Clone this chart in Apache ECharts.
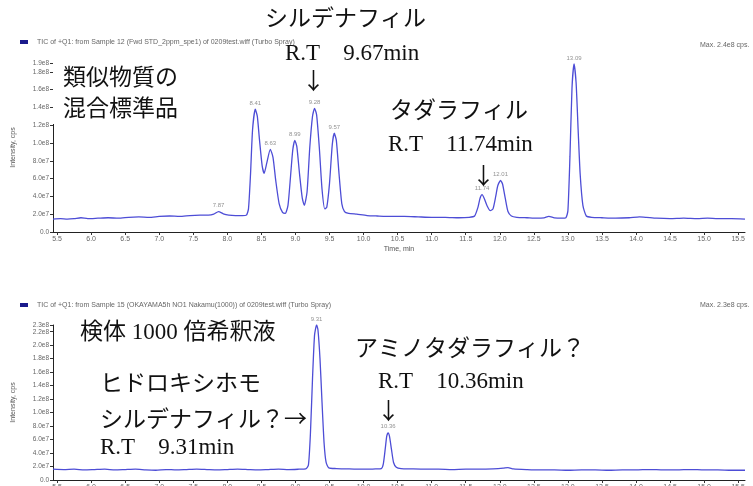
<!DOCTYPE html>
<html><head><meta charset="utf-8">
<script src="https://cdn.jsdelivr.net/npm/echarts@6/dist/echarts.min.js"></script>
<style>html,body{margin:0;padding:0;background:#fff}#c{width:753px;height:486px}</style>
</head><body><div id="c"></div>
<script>
const xTicks = [5.5,6.0,6.5,7.0,7.5,8.0,8.5,9.0,9.5,10.0,10.5,11.0,11.5,12.0,12.5,13.0,13.5,14.0,14.5,15.0,15.5];
const yTicksTop = [0,2e7,4e7,6e7,8e7,1e8,1.2e8,1.4e8,1.6e8,1.8e8,1.9e8];
const yTicksBottom = [0,2e7,4e7,6e7,8e7,1e8,1.2e8,1.4e8,1.6e8,1.8e8,2.0e8,2.2e8,2.3e8];

const topTrace = [[5.44,1.45e7],[5.55,1.5e7],[5.65,1.45e7],[5.75,1.5e7],[5.85,1.6e7],[5.95,1.5e7],[6.1,1.55e7],[6.25,1.6e7],[6.4,1.55e7],[6.55,1.65e7],[6.7,1.7e7],[6.85,1.65e7],[7.0,1.75e7],[7.15,1.8e7],[7.3,1.75e7],[7.45,1.85e7],[7.6,1.9e7],[7.72,1.9e7],[7.80,2.0e7],[7.87,2.3e7],[7.94,2.05e7],[8.02,1.9e7],[8.12,1.85e7],[8.22,1.85e7],[8.28,1.9e7],[8.31,2.6e7],[8.34,6.5e7],[8.37,11.5e7],[8.41,13.8e7],[8.44,13.0e7],[8.47,10.5e7],[8.51,7.5e7],[8.54,6.6e7],[8.58,7.8e7],[8.63,9.3e7],[8.67,8.4e7],[8.71,5.8e7],[8.76,3.2e7],[8.81,2.2e7],[8.85,2.1e7],[8.89,3.0e7],[8.93,6.5e7],[8.96,9.2e7],[8.99,10.3e7],[9.02,9.6e7],[9.06,6.5e7],[9.10,3.8e7],[9.13,3.0e7],[9.17,4.5e7],[9.21,9.5e7],[9.25,13.0e7],[9.28,13.9e7],[9.31,13.2e7],[9.35,9.5e7],[9.39,4.8e7],[9.43,2.6e7],[9.46,2.8e7],[9.50,5.5e7],[9.54,9.8e7],[9.57,11.1e7],[9.60,10.3e7],[9.64,6.5e7],[9.68,3.2e7],[9.72,2.3e7],[9.78,2.1e7],[9.9,2.0e7],[10.05,1.85e7],[10.2,1.8e7],[10.4,1.75e7],[10.6,1.75e7],[10.8,1.7e7],[11.0,1.65e7],[11.2,1.65e7],[11.4,1.6e7],[11.55,1.65e7],[11.63,1.8e7],[11.68,2.8e7],[11.71,3.8e7],[11.74,4.2e7],[11.77,3.8e7],[11.81,3.0e7],[11.86,2.4e7],[11.90,2.6e7],[11.94,4.0e7],[11.97,5.2e7],[12.01,5.8e7],[12.04,5.4e7],[12.08,3.8e7],[12.12,2.3e7],[12.17,1.8e7],[12.25,1.65e7],[12.4,1.6e7],[12.55,1.55e7],[12.65,1.6e7],[12.72,1.75e7],[12.8,1.6e7],[12.9,1.55e7],[12.97,1.6e7],[13.0,2.4e7],[13.03,8.5e7],[13.06,16.2e7],[13.09,18.9e7],[13.12,16.8e7],[13.15,11.5e7],[13.18,6.5e7],[13.22,3.0e7],[13.27,1.8e7],[13.35,1.65e7],[13.5,1.6e7],[13.7,1.55e7],[13.9,1.6e7],[14.05,1.7e7],[14.15,1.65e7],[14.3,1.55e7],[14.5,1.5e7],[14.7,1.55e7],[14.9,1.5e7],[15.05,1.55e7],[15.2,1.5e7],[15.4,1.5e7],[15.6,1.45e7]];

const bottomTrace = [[5.44,1.6e7],[5.6,1.55e7],[5.75,1.6e7],[5.9,1.5e7],[6.05,1.55e7],[6.2,1.6e7],[6.35,1.5e7],[6.5,1.55e7],[6.65,1.6e7],[6.8,1.5e7],[6.95,1.45e7],[7.1,1.55e7],[7.25,1.5e7],[7.4,1.55e7],[7.55,1.6e7],[7.7,1.55e7],[7.85,1.5e7],[8.0,1.55e7],[8.15,1.6e7],[8.3,1.55e7],[8.45,1.5e7],[8.6,1.55e7],[8.75,1.6e7],[8.9,1.55e7],[9.05,1.6e7],[9.15,1.65e7],[9.19,2.2e7],[9.22,7.0e7],[9.25,15.0e7],[9.28,21.5e7],[9.31,23.0e7],[9.33,22.3e7],[9.36,18.0e7],[9.39,11.5e7],[9.42,5.5e7],[9.45,2.6e7],[9.49,1.8e7],[9.6,1.7e7],[9.75,1.65e7],[9.9,1.6e7],[10.05,1.6e7],[10.18,1.65e7],[10.26,1.7e7],[10.29,2.4e7],[10.32,4.8e7],[10.34,6.5e7],[10.36,7.0e7],[10.38,6.5e7],[10.41,4.5e7],[10.44,2.6e7],[10.48,1.9e7],[10.55,1.7e7],[10.7,1.65e7],[10.9,1.6e7],[11.1,1.6e7],[11.3,1.55e7],[11.5,1.6e7],[11.7,1.6e7],[11.9,1.65e7],[12.05,1.75e7],[12.12,1.85e7],[12.2,1.65e7],[12.4,1.55e7],[12.6,1.5e7],[12.8,1.5e7],[13.0,1.45e7],[13.2,1.5e7],[13.4,1.5e7],[13.6,1.45e7],[13.8,1.5e7],[14.0,1.5e7],[14.2,1.55e7],[14.4,1.5e7],[14.6,1.5e7],[14.8,1.55e7],[15.0,1.5e7],[15.2,1.5e7],[15.4,1.45e7],[15.6,1.45e7]];

const topPeaks = [[7.87,2.3e7],[8.41,13.8e7],[8.63,9.3e7],[8.99,10.3e7],[9.28,13.9e7],[9.57,11.1e7],[11.74,4.2e7],[12.01,5.8e7],[13.09,18.9e7]];
const bottomPeaks = [[9.31,23.0e7],[10.36,7.0e7]];

const topHeader = 'TIC of +Q1: from Sample 12 (Fwd STD_2ppm_spe1) of 0209test.wiff (Turbo Spray)';
const bottomHeader = 'TIC of +Q1: from Sample 15 (OKAYAMA5h NO1 Nakamu(1000)) of 0209test.wiff (Turbo Spray)';
const topMax = 'Max. 2.4e8 cps.';
const bottomMax = 'Max. 2.3e8 cps.';
const xName = 'Time, min';
const yName = 'Intensity, cps';

const topNotes = [
  ['類似物質の', 63, 79],
  ['混合標準品', 63, 110],
  ['シルデナフィル', 265, 20],
  ['R.T\u30009.67min', 285, 54],
  ['↓', 302, 80],
  ['タダラフィル', 390, 112],
  ['R.T\u300011.74min', 388, 145],
  ['↓', 472, 175]
];
const bottomNotes = [
  ['検体 1000 倍希釈液', 80, 333],
  ['アミノタダラフィル？', 355, 350],
  ['R.T\u300010.36min', 378, 382],
  ['↓', 377, 410],
  ['ヒドロキシホモ', 100, 385],
  ['シルデナフィル？→', 100, 418],
  ['R.T\u30009.31min', 100, 448]
];

const small = "'Liberation Sans', Arial, sans-serif";
const big = "'Liberation Serif', 'Noto Sans CJK JP', serif";
const bigCJK = "'Noto Sans CJK JP', 'Liberation Serif', serif";
const lineColor = '#4d4dd6';

function yFmt(v){ return v === 0 ? '0.0' : v.toExponential(1).replace('+',''); }

function xAxisCfg(gi, showName){
  return {
    type:'value', gridIndex:gi, min:5.44, max:15.6,
    name: showName ? xName : '', nameLocation:'middle', nameGap:14,
    nameTextStyle:{fontSize:7, color:'#555', fontFamily:small},
    axisLine:{lineStyle:{color:'#222', width:1}},
    axisTick:{customValues:xTicks, length:3, lineStyle:{color:'#333'}},
    axisLabel:{customValues:xTicks, fontSize:7, color:'#666', margin:4, fontFamily:small, formatter:v=>v.toFixed(1)},
    splitLine:{show:false}
  };
}
function yAxisCfg(gi, ticks, max, extra){
  return {
    type:'value', gridIndex:gi, min:0, max:max, position:'left', offset:0,
    name: extra ? '' : yName, nameLocation:'middle', nameGap:36,
    nameTextStyle:{fontSize:7, color:'#555', fontFamily:small},
    axisLine:{show:!extra, lineStyle:{color:'#222', width:1}},
    axisTick:{show:true, customValues:ticks, length:3, lineStyle:{color:'#333'}},
    axisLabel:{customValues:ticks, fontSize:6.5, color:'#666', margin:4, fontFamily:small, formatter:yFmt,
      hideOverlap:false},
    splitLine:{show:false}
  };
}
function peakSeries(xi, yi, data){
  return {
    type:'scatter', xAxisIndex:xi, yAxisIndex:yi, data:data, symbolSize:0, silent:true, z:5,
    label:{show:true, position:'top', distance:3, fontSize:6, color:'#777', fontFamily:small,
      formatter:p=>p.value[0].toFixed(2)}
  };
}
function noteEls(notes){
  return notes.map(n=>({type:'text', x:n[1], y:n[2], z:100,
    style:{text:n[0], font:'23px '+(/[↓→]/.test(n[0]) ? bigCJK : big), fill:'#111', textVerticalAlign:'middle'}}));
}

const bottomMaxVal = yTicksBottom[yTicksBottom.length-1];
const chart = echarts.init(document.getElementById('c'), null, {renderer:'canvas'});
chart.setOption({
  animation:false,
  backgroundColor:'#fff',
  grid:[
    {left:53, top:63, width:692, height:169, outerBoundsMode:'none'},
    {left:53, top:325, width:692, height:155, outerBoundsMode:'none'}
  ],
  xAxis:[xAxisCfg(0,true), xAxisCfg(1,false)],
  yAxis:[
    yAxisCfg(0, yTicksTop, 1.9e8, false),
    yAxisCfg(1, yTicksBottom.slice(0,-1), bottomMaxVal, false),
    yAxisCfg(1, [bottomMaxVal], bottomMaxVal, true)
  ],
  series:[
    {type:'line', xAxisIndex:0, yAxisIndex:0, data:topTrace, showSymbol:false, smooth:0.2,
      lineStyle:{color:lineColor, width:1.3}},
    {type:'line', xAxisIndex:1, yAxisIndex:1, data:bottomTrace, showSymbol:false, smooth:0.2,
      lineStyle:{color:lineColor, width:1.3}},
    peakSeries(0, 0, topPeaks),
    peakSeries(1, 1, bottomPeaks)
  ],
  graphic:[
    {type:'rect', shape:{x:20, y:40, width:8, height:4}, style:{fill:'#1a1a8c'}, z:50},
    {type:'text', x:37, y:42, z:50, style:{text:topHeader, font:'7px '+small, fill:'#666', textVerticalAlign:'middle'}},
    {type:'text', x:700, y:45, z:50, style:{text:topMax, font:'7px '+small, fill:'#666', textVerticalAlign:'middle'}},
    {type:'rect', shape:{x:20, y:303, width:8, height:4}, style:{fill:'#1a1a8c'}, z:50},
    {type:'text', x:37, y:305, z:50, style:{text:bottomHeader, font:'7px '+small, fill:'#666', textVerticalAlign:'middle'}},
    {type:'text', x:700, y:305, z:50, style:{text:bottomMax, font:'7px '+small, fill:'#666', textVerticalAlign:'middle'}},
    {type:'rect', shape:{x:53, y:58, width:135, height:66}, style:{fill:'#fff'}, z:90}
  ].concat(noteEls(topNotes), noteEls(bottomNotes))
});
</script></body></html>
